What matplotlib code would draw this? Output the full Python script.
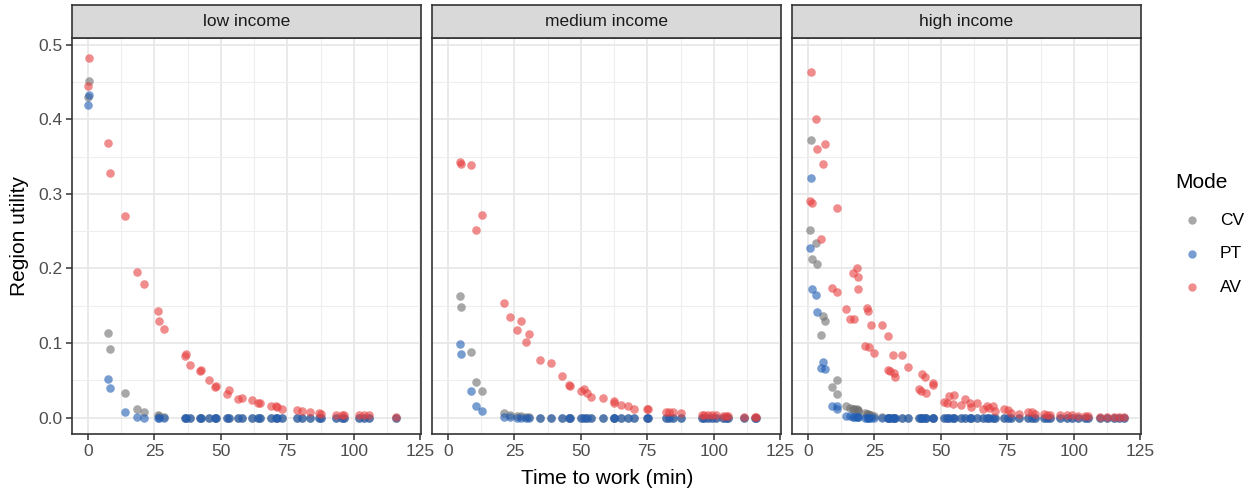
import numpy as np
import matplotlib
matplotlib.use("Agg")
from matplotlib import pyplot as plt
from matplotlib.lines import Line2D

plt.rcParams['font.family'] = ['Liberation Sans', 'DejaVu Sans']

# travel time (min) per region, and utility per mode, for each income group
low_time = [0.1, 0.4, 7.6, 8.25, 13.9, 18.6, 21.25, 26.4, 26.6, 28.5, 36.4, 36.75, 38.5,
            42.0, 42.4, 45.5, 47.75, 48.25, 52.4, 53.25, 56.5, 58.0, 61.6, 64.1, 64.9,
            68.75, 70.6, 71.25, 72.9, 78.75, 80.4, 83.5, 86.75, 87.5, 93.5, 95.5, 96.25,
            101.9, 103.75, 105.75, 116.0]
low_av = [0.444, 0.482, 0.368, 0.328, 0.270, 0.195, 0.179, 0.143, 0.129, 0.119, 0.083, 0.085,
          0.071, 0.062, 0.064, 0.050, 0.041, 0.043, 0.032, 0.037, 0.025, 0.026, 0.023, 0.020,
          0.020, 0.015, 0.015, 0.014, 0.011, 0.010, 0.009, 0.0076, 0.006, 0.005, 0.004, 0.004,
          0.004, 0.003, 0.003, 0.003, 0.001]
low_cv = [0.430, 0.452, 0.114, 0.092, 0.033, 0.011, 0.007, 0.003, 0.002, 0.001] + [0.0] * 31
low_pt = [0.419, 0.433, 0.052, 0.040, 0.0076, 0.001] + [0.0] * 35

med_time = [4.4, 5.0, 8.5, 10.5, 12.9, 21.1, 23.25, 26.0, 27.6, 29.4, 30.6, 34.6, 38.9,
            42.9, 45.6, 45.9, 50.0, 51.25, 52.25, 54.0, 58.4, 62.5, 62.6, 65.1, 67.9, 70.0,
            74.75, 75.4, 81.9, 83.1, 84.5, 87.75, 95.4, 96.5, 98.0, 99.5, 101.0, 103.5,
            104.5, 105.4, 111.4, 115.4, 116.0]
med_av = [0.343, 0.340, 0.339, 0.252, 0.272, 0.154, 0.135, 0.117, 0.130, 0.102, 0.112, 0.077,
          0.073, 0.056, 0.044, 0.043, 0.036, 0.038, 0.033, 0.028, 0.026, 0.022, 0.019, 0.017,
          0.015, 0.012, 0.011, 0.011, 0.007, 0.007, 0.0076, 0.006, 0.004, 0.004, 0.003, 0.003,
          0.003, 0.002, 0.002, 0.002, 0.001, 0.001, 0.001]
med_cv = [0.163, 0.148, 0.088, 0.048, 0.036, 0.006, 0.004, 0.002, 0.002, 0.001, 0.001] + [0.0] * 32
med_pt = [0.099, 0.085, 0.036, 0.016, 0.009, 0.001, 0.001] + [0.0] * 36

high_time = [0.6, 1.0, 1.6, 3.1, 3.4, 4.75, 5.6, 6.5, 9.1, 10.9, 11.1, 14.4, 16.0, 17.0,
             17.3, 18.6, 18.75, 19.0, 21.4, 22.25, 22.75, 22.9, 23.6, 24.9, 27.75, 30.0,
             30.2, 31.0, 32.0, 32.4, 32.6, 35.5, 37.5, 41.6, 42.6, 42.75, 44.1, 44.6, 46.9,
             47.1, 51.0, 52.5, 53.1, 54.75, 55.1, 57.5, 59.0, 61.0, 61.25, 63.5, 65.9, 67.25,
             68.1, 69.75, 70.25, 73.9, 75.4, 76.25, 79.4, 82.75, 84.4, 85.6, 88.9, 89.75,
             91.25, 94.75, 97.5, 99.4, 101.6, 104.1, 105.4, 110.0, 112.5, 115.0, 116.9, 118.75]
high_av = [0.291, 0.464, 0.288, 0.401, 0.360, 0.240, 0.340, 0.367, 0.174, 0.169, 0.281, 0.145,
           0.132, 0.194, 0.132, 0.201, 0.173, 0.188, 0.096, 0.147, 0.143, 0.094, 0.124, 0.087,
           0.124, 0.110, 0.064, 0.063, 0.084, 0.060, 0.055, 0.084, 0.068, 0.039, 0.035, 0.058,
           0.054, 0.033, 0.046, 0.044, 0.021, 0.019, 0.029, 0.018, 0.030, 0.017, 0.025, 0.020,
           0.014, 0.019, 0.011, 0.016, 0.013, 0.015, 0.009, 0.011, 0.010, 0.006, 0.005, 0.0076,
           0.007, 0.005, 0.005, 0.004, 0.003, 0.004, 0.003, 0.003, 0.002, 0.002, 0.002, 0.001,
           0.001, 0.001, 0.001, 0.001]
high_cv = [0.251, 0.372, 0.212, 0.234, 0.206, 0.111, 0.136, 0.130, 0.041, 0.032, 0.050, 0.015,
           0.013, 0.012, 0.012, 0.011, 0.010, 0.009, 0.006, 0.005, 0.005, 0.004, 0.003, 0.002,
           0.001] + [0.0] * 51
high_pt = [0.227, 0.321, 0.172, 0.164, 0.142, 0.066, 0.074, 0.065, 0.015, 0.012, 0.016, 0.002,
           0.002, 0.001, 0.001, 0.001, 0.001, 0.001] + [0.0] * 58

panels = ["low income", "medium income", "high income"]
times = [low_time, med_time, high_time]
utilities = [
    {"CV": low_cv, "PT": low_pt, "AV": low_av},
    {"CV": med_cv, "PT": med_pt, "AV": med_av},
    {"CV": high_cv, "PT": high_pt, "AV": high_av},
]
modes = ["CV", "PT", "AV"]
colors = {"CV": "#6e6e6e", "PT": "#1f5cb3", "AV": "#e63f3f"}

fig = plt.figure(figsize=(12.52, 4.9), dpi=100)

W, H = 1252.0, 490.0
lefts = [72, 432, 792]
pw = 349
top, bottom, strip_top = 38, 434, 5
frame_col = "#333333"

for k, name in enumerate(panels):
    ax = fig.add_axes([lefts[k] / W, 1 - bottom / H, pw / W, (bottom - top) / H])
    for m in modes:
        ax.scatter(times[k], utilities[k][m], s=38, color=colors[m], alpha=0.6,
                   linewidths=0, zorder=3)
    ax.set_xlim(-6, 125.3)
    ax.set_ylim(-0.022, 0.509)
    ax.set_xticks([0, 25, 50, 75, 100, 125])
    ax.set_xticks(np.arange(12.5, 125, 25), minor=True)
    ax.set_yticks([0.0, 0.1, 0.2, 0.3, 0.4, 0.5])
    ax.set_yticks(np.arange(0.05, 0.5, 0.1), minor=True)
    ax.grid(which="major", color="#e8e8e8", linewidth=1.3, zorder=0)
    ax.grid(which="minor", color="#eeeeee", linewidth=0.8, zorder=0)
    ax.set_axisbelow(True)
    for sp in ax.spines.values():
        sp.set_color(frame_col)
        sp.set_linewidth(1.2)
    ax.tick_params(which="minor", length=0)
    ax.tick_params(which="major", length=4.5, width=1.1, color=frame_col,
                   labelcolor="#4d4d4d", labelsize=12.5, pad=2.5)
    if k == 0:
        ax.set_yticklabels(["0.0", "0.1", "0.2", "0.3", "0.4", "0.5"])
    else:
        ax.tick_params(axis="y", left=False, labelleft=False)

    # facet strip
    sax = fig.add_axes([lefts[k] / W, 1 - top / H, pw / W, (top - strip_top) / H])
    sax.set_facecolor("#d9d9d9")
    sax.set_xticks([])
    sax.set_yticks([])
    for sp in sax.spines.values():
        sp.set_color(frame_col)
        sp.set_linewidth(1.2)
    sax.text(0.5, 0.5, name, ha="center", va="center", fontsize=12.5,
             color="#1a1a1a", transform=sax.transAxes)

fig.text(607 / W, 1 - 478 / H, "Time to work (min)", ha="center", va="center", fontsize=15)
fig.text(20 / W, 1 - 236 / H, "Region utility", ha="center", va="center",
         rotation=90, fontsize=15)

# legend laid out by hand
fig.text(1175 / W, 1 - 182 / H, "Mode", ha="left", va="center", fontsize=15)
for m, ypx in zip(modes, [220, 254, 287]):
    fig.add_artist(Line2D([1192 / W], [1 - ypx / H], transform=fig.transFigure,
                          marker="o", linestyle="none", markersize=6,
                          markerfacecolor=colors[m], markeredgewidth=0, alpha=0.6))
    fig.text(1220 / W, 1 - ypx / H, m, ha="left", va="center", fontsize=12.5)

fig.savefig("out.png", dpi=100)
